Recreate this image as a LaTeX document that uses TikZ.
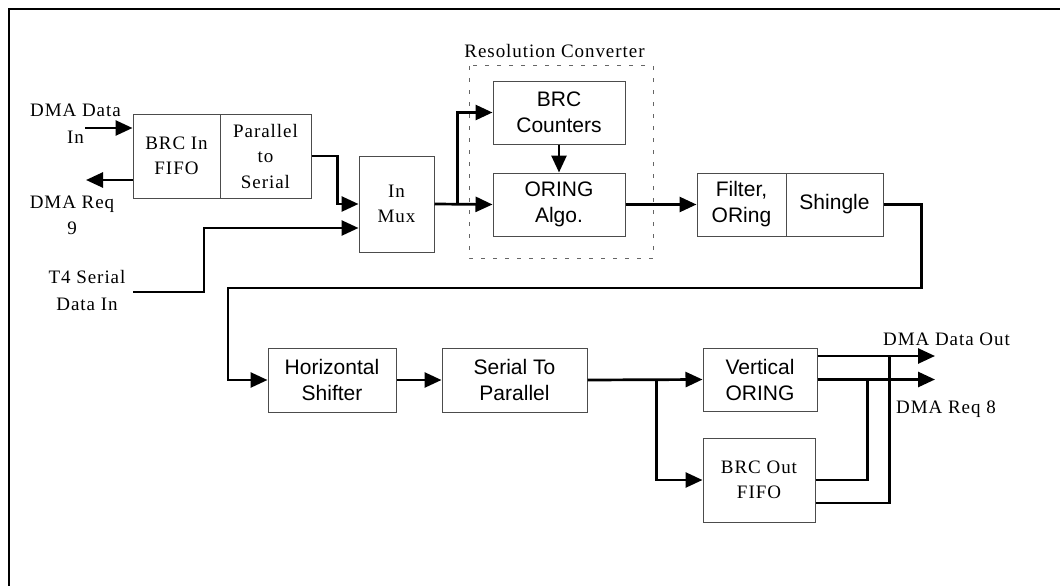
\documentclass[tikz,border=0pt]{standalone}
\usepackage{fontspec}
\setmainfont{Liberation Serif}
\newfontfamily\lblfont[LetterSpace=5]{Liberation Serif}
\newfontfamily\boxfont{Liberation Sans}
\usetikzlibrary{arrows.meta, positioning, calc}

\begin{document}
\begin{tikzpicture}[
  x=1pt, y=-1pt,
  blk/.style={rectangle, draw=black!70, line width=1pt, inner sep=0pt, align=center,
              font=\boxfont\fontsize{21}{26}\selectfont},
  sblk/.style={blk, font=\lblfont\fontsize{19}{25.5}\selectfont},
  lbl/.style={inner sep=0pt, align=center, font=\lblfont\fontsize{19}{26.5}\selectfont},
  arrow/.style={-{Triangle[length=17pt, width=15pt]}, line width=2.7pt},
  wire/.style={line width=2.7pt},
  group/.style={draw=black!60, line width=1pt, dash pattern=on 4pt off 8pt},
  frame/.style={line width=2.8pt}
]
  \useasboundingbox (0,0) rectangle (1060,586);
  \draw[frame] (9,586) -- (9,9) -- (1060,9);

  % Input blocks
  \node[sblk, minimum width=87pt, minimum height=84pt] (infifo) at (176.5,156) {BRC In\\FIFO};
  \node[sblk, minimum width=91pt, minimum height=84pt] (ptos)   at (265.5,156) {Parallel\\to\\Serial};
  \node[sblk, minimum width=75pt, minimum height=96pt] (mux)    at (396.5,204) {In\\Mux};

  % Resolution converter
  \draw[group] (469,66) rectangle (653,258);
  \node[lbl] (rescap) at (554.5,51) {Resolution Converter};
  \node[blk, minimum width=132pt, minimum height=63pt] (counters) at (559,112.5) {BRC\\Counters};
  \node[blk, minimum width=132pt, minimum height=63pt] (oring)    at (559,204.5) {ORING\\Algo.};

  \node[blk, minimum width=89pt, minimum height=63pt] (filter)  at (741.5,204.5) {Filter,\\ORing};
  \node[blk, minimum width=97pt, minimum height=63pt] (shingle) at (834.5,204.5) {Shingle};

  % Output blocks
  \node[blk, minimum width=128pt, minimum height=64pt] (hshift)  at (332,380)   {Horizontal\\Shifter};
  \node[blk, minimum width=145pt, minimum height=64pt] (stop)    at (514.5,380) {Serial To\\Parallel};
  \node[blk, minimum width=114pt, minimum height=63pt] (vor)     at (760,379.5) {Vertical\\ORING};
  \node[sblk, minimum width=112pt, minimum height=84pt] (outfifo) at (759,480)  {BRC Out\\FIFO};

  % Labels
  \node[lbl] (dinlbl)   at (75.5,123.5) {DMA Data\\In};
  \node[lbl] (dreqlbl)  at (72,215.5)   {DMA Req\\9};
  \node[lbl] (t4lbl)    at (87,290.5)   {T4 Serial\\Data In};
  \node[lbl] (doutlbl)  at (946.5,339)  {DMA Data Out};
  \node[lbl] (dreq8lbl) at (946,409)    {DMA Req 8};

  % Free ends
  \coordinate (din)     at (85,128);
  \coordinate (dreq)    at (86,180);
  \coordinate (t4in)    at (133,292);
  \coordinate (loopend) at (228,288);
  \coordinate (dout)    at (935,356);
  \coordinate (dreq8)   at (935,379.5);

  % Connectors
  \draw[arrow] (din) -- (din -| infifo.west);
  \draw[arrow] (dreq -| infifo.west) -- (dreq);
  \draw[arrow] (ptos.east) -- ++(26,0) |- (mux.west);
  \draw[arrow] (t4in) -- ++(71,0) |- ([yshift=-24pt]mux.west);
  \draw[arrow] (mux.east) -- (oring.west);
  \draw[arrow] ([xshift=23pt]mux.east) |- (counters.west);
  \draw[arrow] (counters.south) -- (oring.north);
  \draw[arrow] (oring.east) -- (filter.west);
  \draw[arrow] (shingle.east) -- ++(38,0) |- (loopend) |- (hshift.west);
  \draw[arrow] (hshift.east) -- (stop.west);
  \draw[arrow] (stop.east) -- (vor.west);
  \draw[arrow] ([xshift=69pt]stop.east) |- (outfifo.west);
  \draw[arrow] ([yshift=23.5pt]vor.east) -- (dout);
  \draw[arrow] (vor.east) -- (dreq8);
  \draw[wire] (outfifo.east) -| ([xshift=50pt]vor.east);
  \draw[wire] ([yshift=-23pt]outfifo.east) -| ([xshift=72pt,yshift=23.5pt]vor.east);
\end{tikzpicture}
\end{document}
